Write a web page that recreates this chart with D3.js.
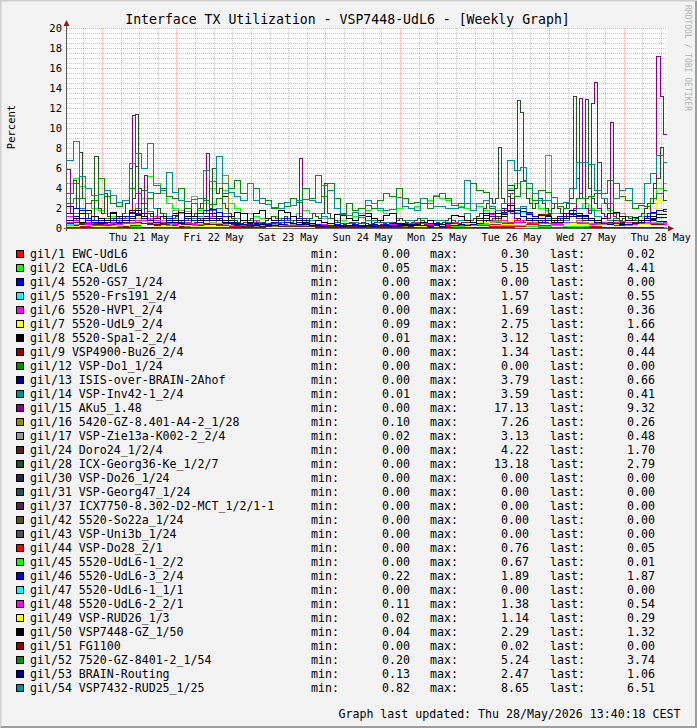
<!DOCTYPE html>
<html><head><meta charset="utf-8">
<script src="https://cdn.jsdelivr.net/npm/d3@7"></script>
<style>
html,body{margin:0;padding:0;background:#F3F3F3;}
svg{display:block;}
text{font-family:"DejaVu Sans Mono",monospace;}
</style></head><body>
<svg id="chart" width="697" height="728"></svg>
<script>
// ---------------- DATA ----------------
const chartTitle = "Interface TX Utilization - VSP7448-UdL6 - [Weekly Graph]";
const yAxisTitle = "Percent";
const footerText = "Graph last updated: Thu 28/May/2026 13:40:18 CEST";
const watermarkText = "RRDTOOL / TOBI OETIKER";
const yTickValues = [0,2,4,6,8,10,12,14,16,18,20];
const timeStart = Date.UTC(2026,4,20,12,45);
const timeEnd   = Date.UTC(2026,4,28,14,0);
const sampleSpanHours = 192;

const seriesNames = ["gil/1 EWC-UdL6","gil/2 ECA-UdL6","gil/4 5520-GS7_1/24","gil/5 5520-Frs191_2/4","gil/6 5520-HVPl_2/4","gil/7 5520-UdL9_2/4","gil/8 5520-Spa1-2_2/4","gil/9 VSP4900-Bu26_2/4","gil/12 VSP-Do1_1/24","gil/13 ISIS-over-BRAIN-2Ahof","gil/14 VSP-Inv42-1_2/4","gil/15 AKu5_1.48","gil/16 5420-GZ-8.401-A4-2_1/28","gil/17 VSP-Zie13a-K002-2_2/4","gil/24 Doro24_1/2/4","gil/28 ICX-Georg36-Ke_1/2/7","gil/30 VSP-Do26_1/24","gil/31 VSP-Georg47_1/24","gil/37 ICX7750-8.302-D2-MCT_1/2/1-1","gil/42 5520-So22a_1/24","gil/43 VSP-Uni3b_1/24","gil/44 VSP-Do28_2/1","gil/45 5520-UdL6-1_2/2","gil/46 5520-UdL6-3_2/4","gil/47 5520-UdL6-1_1/1","gil/48 5520-UdL6-2_2/1","gil/49 VSP-RUD26_1/3","gil/50 VSP7448-GZ_1/50","gil/51 FG1100","gil/52 7520-GZ-8401-2_1/54","gil/53 BRAIN-Routing","gil/54 VSP7432-RUD25_1/25"];

const legendMin  = ["0.00","0.05","0.00","0.00","0.00","0.09","0.01","0.00","0.00","0.00","0.01","0.00","0.10","0.02","0.00","0.00","0.00","0.00","0.00","0.00","0.00","0.00","0.00","0.22","0.00","0.11","0.02","0.04","0.00","0.20","0.13","0.82"];
const legendMax  = ["0.30","5.15","0.00","1.57","1.69","2.75","3.12","1.34","0.00","3.79","3.59","17.13","7.26","3.13","4.22","13.18","0.00","0.00","0.00","0.00","0.00","0.76","0.67","1.89","0.00","1.38","1.14","2.29","0.02","5.24","2.47","8.65"];
const legendLast = ["0.02","4.41","0.00","0.55","0.36","1.66","0.44","0.44","0.00","0.66","0.41","9.32","0.26","0.48","1.70","2.79","0.00","0.00","0.00","0.00","0.00","0.05","0.01","1.87","0.00","0.54","0.29","1.32","0.00","3.74","1.06","6.51"];

const seriesColors = ["#FF0000","#00FF00","#0000FF","#00FFFF","#FF00FF","#FFFF00","#000000","#990000","#009000","#000090","#009090","#900090","#909000","#999999","#552222","#225522","#222255","#225555","#552255","#555522","#555555","#FF0000","#00FF00","#0000FF","#00FFFF","#FF00FF","#FFFF00","#000000","#990000","#009000","#000090","#009090"];

// series values (evenly sampled over the first 192 h; one row = one day)
const v01 = [0.10,0.20,0.15,0.10,0.08,0.10, 0.30,0.15,0.10,0.08,0.05,0.10, 0.12,0.08,0.05,0.05,0.06,0.05, 0.05,0.04,0.05,0.06,0.05,0.04, 0.05,0.04,0.05,0.06,0.05,0.06, 0.05,0.06,0.08,0.10,0.12,0.15, 0.20,0.12,0.10,0.08,0.10,0.12, 0.10,0.08,0.06,0.05,0.04,0.03, 0.02];
const v02 = [4.5,5.0,4.2,2.5,2.0,1.8,1.5,1.2,1.0,1.5,2.0,2.5,
 3.0,5.15,4.5,3.5,2.5,2.0,1.5,1.2,1.5,1.8,2.5,4.0,
 4.5,3.8,2.5,2.0,1.5,1.5,1.2,1.0,1.0,1.2,1.0,1.0,
 1.2,1.5,1.8,1.5,1.5,1.2,1.0,0.8,0.8,1.0,1.2,1.5,
 1.8,2.0,1.8,1.5,1.5,2.0,2.2,2.0,2.2,2.5,2.8,3.3,
 3.0,2.8,2.5,2.2,2.0,2.5,2.2,1.8,1.5,1.2,1.5,4.0,
 4.5,3.5,3.0,2.5,2.0,1.8,1.5,1.5,1.2,1.5,2.0,2.5,
 2.0,1.8,2.5,1.8,1.5,1.5,1.2,1.0,1.2,1.5,2.5,4.0,
 4.41];
const v04 = [0,0];
const v05 = [0.4,0.6,0.5,0.4,0.3,0.5, 1.0,0.6,0.4,0.3,0.4,0.5, 0.6,0.4,0.3,0.3,0.2,0.3, 0.2,0.2,0.3,0.2,0.2,0.3, 0.2,0.3,0.2,0.3,0.3,0.4, 0.3,0.4,0.6,0.8,0.6,0.5, 1.57,0.6,0.5,0.4,0.6,0.8, 0.5,0.4,0.4,0.5,0.6,0.6, 0.55];
const v06 = [1.2,1.5,1.0,0.6,0.5,0.4,0.5,0.6,0.5,0.6,0.8,1.0,
 1.0,1.69,1.2,0.8,0.6,0.5,0.6,0.5,0.4,0.6,1.0,1.2,
 1.0,0.8,0.6,0.5,0.4,0.3,0.3,0.4,0.3,0.3,0.4,0.3,
 0.3,0.4,0.3,0.3,0.4,0.3,0.3,0.4,0.3,0.3,0.2,0.3,
 0.3,0.2,0.3,0.3,0.4,0.3,0.3,0.4,0.5,0.6,0.5,0.4,
 0.4,0.3,0.3,0.4,0.3,0.4,0.5,0.6,0.8,1.0,0.8,0.6,
 0.5,0.6,0.5,0.4,0.5,0.6,0.5,0.4,0.5,0.6,0.5,0.4,
 0.4,0.5,0.6,0.5,0.4,0.5,0.6,0.5,0.4,0.4,0.5,0.4,
 0.36];
const v07 = [0.5,0.6,0.4,0.3,0.3,0.4,0.5,0.3,0.4,0.8,2.0,1.2,
 0.8,0.5,0.4,0.3,0.3,0.4,0.5,0.4,0.3,0.4,0.6,0.8,
 0.6,0.5,0.4,0.3,0.3,0.2,0.3,0.2,0.2,0.3,0.2,0.3,
 0.2,0.3,0.2,0.2,0.3,0.5,0.4,0.3,0.2,0.2,0.3,0.2,
 0.2,0.3,0.2,0.2,0.3,0.2,0.3,0.3,0.2,0.2,0.3,0.2,
 0.2,0.3,0.2,0.3,0.2,0.3,0.5,0.8,1.0,0.8,0.6,0.8,
 0.6,0.8,1.0,0.6,0.5,0.6,0.8,0.6,0.5,0.4,0.6,0.8,
 0.6,0.5,0.4,0.3,0.4,0.5,0.4,0.6,0.8,1.0,1.5,2.75,
 1.66];
const v08 = [0.5,0.8,1.5,1.8,1.2,0.8,1.0,1.5,0.6,0.5,1.8,1.5,
 1.2,1.5,0.8,0.5,0.6,1.5,1.8,1.2,1.0,0.6,0.5,0.8,
 1.0,3.12,0.8,0.6,1.5,0.8,0.5,0.4,0.5,0.6,0.4,0.3,
 0.3,0.2,0.3,0.4,0.3,0.2,0.3,1.4,0.5,0.3,0.2,0.3,
 0.3,0.2,0.3,0.2,0.3,0.2,0.3,0.4,0.3,0.2,0.1,0.2,
 0.3,0.2,0.3,0.4,0.3,0.5,0.8,1.3,0.8,1.0,1.2,1.7,
 1.0,0.8,0.6,0.5,0.8,1.3,0.8,0.6,0.5,0.6,0.8,1.0,
 0.8,0.6,0.5,0.4,0.5,0.6,0.5,0.4,0.5,0.6,0.8,0.5,
 0.44];
const v09 = [0.3,0.5,0.4,0.3,0.2,0.3, 0.5,0.4,0.3,0.2,0.3,0.4, 0.5,0.3,0.2,0.2,0.2,0.2, 0.2,0.1,0.2,0.2,0.1,0.2, 0.2,0.2,0.1,0.2,0.2,0.3, 0.3,0.4,0.6,0.8,0.5,0.4, 0.6,0.8,1.34,0.6,0.5,0.4, 0.4,0.3,0.3,0.4,0.5,0.4, 0.44];
const v12 = [0,0];
const v13 = [2.2,2.0,1.5,1.0,0.8,0.6,0.8,1.0,0.8,1.2,1.6,2.0,
 1.5,1.0,0.8,0.6,1.0,0.8,0.6,1.5,1.2,1.0,1.2,1.5,
 1.2,0.8,0.6,0.5,0.4,0.4,0.3,0.4,0.3,0.3,0.6,1.0,
 0.8,0.6,0.5,0.4,0.3,0.3,0.3,0.4,0.3,0.3,0.4,0.3,
 1.5,0.4,0.3,0.3,0.3,0.4,0.5,0.4,0.3,0.3,0.4,0.3,
 0.3,0.4,0.3,0.4,0.3,0.4,0.5,0.8,1.5,1.8,2.0,3.79,
 1.8,2.0,1.6,1.2,1.0,0.8,1.0,1.0,1.2,1.8,1.5,1.2,
 1.0,0.8,0.6,0.5,0.6,0.5,0.4,0.5,0.6,0.8,0.9,0.7,
 0.66];
const v14 = [2.5,3.0,2.0,1.5,1.2,1.0,1.0,0.8,0.8,1.0,1.5,2.0,
 2.5,3.59,2.0,1.5,1.2,1.0,0.8,0.8,1.0,1.2,1.5,1.8,
 2.0,1.5,1.2,1.0,0.8,0.8,0.6,0.6,0.5,0.5,0.6,0.8,
 0.8,1.0,1.0,0.8,0.8,1.2,1.0,0.6,0.5,0.5,0.6,0.5,
 0.8,0.8,0.6,0.6,0.6,1.0,0.8,0.8,0.6,1.0,0.8,0.8,
 0.8,0.6,0.6,0.8,1.5,0.6,0.8,1.0,0.8,0.6,0.8,2.5,
 2.0,2.2,1.5,1.2,1.0,1.0,1.0,0.8,0.8,1.2,2.0,2.0,
 1.8,1.2,1.0,0.8,1.0,1.2,1.2,0.8,0.8,1.0,1.0,0.5,
 0.41];
const v15 = [5.9,1.5,1.0,0.8,0.6,0.5,0.5,0.4,0.4,0.5,0.5,0.4,0.5,0.4,0.5,0.6,0.5,0.8,1.0,1.2,1.5,11.3,6.2,1.5,
 1.2,5.3,1.0,0.8,0.6,0.5,0.6,0.5,0.4,0.5,0.4,0.3,0.3,0.4,0.3,0.4,0.5,0.6,0.8,1.0,1.5,7.5,2.0,1.2,
 1.0,0.8,0.6,0.5,0.5,0.4,0.4,0.3,0.3,0.3,0.4,0.3,0.3,0.4,0.3,0.3,0.4,0.5,0.5,0.6,0.5,0.4,0.4,0.3,
 0.3,0.5,1.0,7.0,0.8,0.5,0.4,0.3,0.3,0.3,0.4,0.3,0.3,0.2,0.3,0.3,0.2,0.3,0.2,0.2,0.3,0.2,0.3,0.3,
 0.3,0.2,0.3,0.2,0.3,0.4,0.3,0.2,0.3,0.4,0.3,0.3,0.4,0.5,0.4,0.3,0.4,0.3,0.3,0.4,0.3,0.3,0.4,0.3,
 0.3,0.4,0.3,0.4,0.5,0.4,0.3,0.4,0.3,0.4,0.5,0.6,0.5,0.6,0.8,0.6,0.8,1.0,0.8,1.2,1.5,2.0,3.2,1.5,
 1.0,0.8,0.6,0.8,0.6,0.5,0.6,0.5,0.6,0.8,0.6,0.5,0.6,0.8,1.0,0.8,1.0,1.5,1.2,2.0,3.0,13.0,3.0,2.0,
 1.5,12.5,14.6,2.0,1.5,1.2,1.0,10.6,1.5,1.0,0.8,0.6,0.5,0.5,0.6,0.5,0.6,0.8,1.0,1.5,2.5,4.5,17.13,13.2,
 9.32];
const v16 = [0.3,0.4,0.3,0.2,0.2,0.3,0.4,0.3,0.2,0.3,0.5,0.4,
 0.3,0.4,0.3,0.2,0.3,0.4,0.3,0.2,0.3,0.4,0.5,0.6,
 0.8,5.3,0.6,0.4,0.3,0.2,0.2,0.3,0.2,0.2,0.1,0.2,
 0.2,0.1,0.2,0.2,0.3,0.2,0.2,0.1,0.2,0.2,0.1,0.2,
 0.2,0.1,0.2,0.2,0.1,0.2,0.2,0.3,0.2,0.2,0.1,0.2,
 0.2,0.2,0.3,0.2,0.3,0.4,0.5,0.6,0.5,0.8,0.6,0.5,
 0.6,0.5,0.8,0.6,0.5,7.26,0.8,0.6,0.5,0.6,0.8,0.6,
 0.5,0.4,0.5,0.6,0.5,0.4,0.3,0.4,0.5,0.4,0.3,0.3,
 0.26];
const v17 = [0.3,0.4,0.3,0.4,0.3,0.5,0.4,0.3,0.4,0.6,0.8,1.0,
 0.8,0.6,0.5,0.8,1.0,1.8,1.8,1.7,3.13,2.0,0.8,0.6,
 0.5,0.4,0.3,0.4,0.3,0.3,0.4,0.3,0.3,0.4,0.3,0.3,
 0.4,0.3,0.3,0.4,0.3,1.0,0.5,0.4,0.3,0.3,0.4,0.3,
 0.3,0.4,0.3,0.3,0.4,0.3,0.3,0.4,0.3,0.3,0.4,0.3,
 0.3,0.4,0.3,0.3,0.4,0.3,0.4,0.5,0.6,0.5,0.4,0.5,
 0.6,0.5,0.4,0.5,0.6,0.5,0.4,0.5,0.6,0.5,0.4,0.5,
 0.4,0.5,0.4,0.3,0.4,0.5,0.4,0.5,0.4,0.5,0.6,0.5,
 0.48];
const v24 = [0.5,0.6,0.4,0.3,0.4,0.5,0.3,0.4,0.5,0.6,0.8,0.6,
 0.5,0.4,0.3,0.4,0.5,0.4,0.3,0.4,0.5,0.6,0.5,0.4,
 0.4,0.3,0.2,0.3,0.2,0.2,0.3,0.2,0.2,0.3,0.2,0.2,
 0.2,0.3,0.2,0.2,0.3,0.2,0.2,0.3,0.2,0.2,0.3,0.2,
 0.2,0.3,0.2,0.2,0.3,0.2,0.3,0.2,0.2,0.3,0.2,0.2,
 0.3,0.2,0.3,0.4,0.3,0.5,0.8,1.0,1.5,1.2,1.8,4.22,
 1.5,1.2,1.0,0.8,1.0,1.2,1.0,0.8,1.5,1.2,1.0,0.8,
 0.8,0.6,0.5,0.6,0.8,0.6,0.5,0.6,0.8,1.0,1.5,1.8,
 1.70];
const v28 = [2.5,3.5,4.8,2.0,7.6,3.0,1.5,1.0,0.8,7.2,2.0,1.5,3.5,1.2,1.0,0.8,1.0,1.2,1.5,2.5,6.0,3.0,11.4,4.0,
 2.5,2.0,1.5,1.2,1.0,2.0,1.5,1.0,0.8,0.8,1.0,1.2,0.8,0.6,0.8,1.0,1.2,1.5,2.0,2.5,3.0,1.5,2.0,6.0,
 3.5,4.0,2.5,2.0,1.5,1.0,0.8,0.6,0.5,0.6,0.8,1.0,0.8,0.6,0.5,0.6,0.8,1.0,1.2,1.0,0.8,1.0,1.2,0.8,
 0.6,0.8,1.0,1.2,1.0,0.8,1.0,1.5,1.2,1.0,1.5,4.5,1.5,1.0,0.8,0.6,0.5,0.4,0.5,0.6,0.5,0.4,0.5,0.6,
 0.5,0.4,0.5,0.6,0.8,0.6,0.5,0.4,0.5,0.6,0.8,1.0,0.8,0.6,0.5,0.6,0.8,1.0,0.8,0.6,0.5,0.4,0.5,0.6,
 0.5,0.6,0.8,1.0,0.8,0.6,0.5,0.6,0.5,0.6,0.8,1.0,1.2,1.5,2.0,2.5,3.0,2.5,3.0,8.1,3.0,2.5,3.5,3.0,
 4.0,12.8,11.6,4.8,3.0,2.5,2.0,2.5,3.0,2.5,2.0,1.5,2.0,2.5,2.0,1.5,2.0,2.5,3.0,13.18,5.0,3.5,3.0,12.9,
 4.0,3.0,2.5,6.6,3.0,2.5,2.0,1.5,1.2,1.0,0.8,1.0,1.2,1.0,0.8,1.0,1.2,1.5,2.0,2.5,3.0,4.0,5.0,8.1,
 2.79];
const v30 = [0,0];
const v31 = [0,0];
const v37 = [0,0];
const v42 = [0,0];
const v43 = [0,0];
const v44 = [0.1,0.2,0.3,0.2,0.1,0.1, 0.3,0.2,0.1,0.1,0.1,0.2, 0.3,0.2,0.1,0.1,0.1,0.1, 0.1,0.1,0.1,0.1,0.1,0.1, 0.1,0.1,0.1,0.1,0.1,0.1, 0.2,0.2,0.3,0.3,0.4,0.5, 0.76,0.4,0.3,0.3,0.2,0.2, 0.2,0.1,0.1,0.1,0.1,0.1, 0.05];
const v45 = [0.2,0.3,0.2,0.1,0.1,0.2, 0.3,0.2,0.1,0.1,0.1,0.2, 0.2,0.1,0.1,0.1,0.1,0.1, 0.1,0.1,0.1,0.1,0.0,0.1, 0.1,0.1,0.1,0.1,0.1,0.1, 0.1,0.2,0.3,0.4,0.67,0.3, 0.3,0.2,0.2,0.3,0.2,0.2, 0.1,0.1,0.1,0.1,0.0,0.0, 0.01];
const v46 = [1.5,2.0,1.8,1.0,0.8,0.8,0.6,0.8,1.0,1.2,1.5,1.4,
 1.2,1.0,0.8,1.2,1.0,1.3,0.8,0.6,0.8,1.5,1.8,1.89,
 1.6,1.2,0.6,0.5,0.4,0.5,0.4,0.5,0.4,0.6,0.8,1.0,
 1.2,1.0,0.8,0.5,0.4,0.4,0.3,0.4,0.3,0.3,0.4,0.3,
 0.3,0.4,0.3,0.4,0.5,0.4,0.3,0.4,0.5,0.6,0.5,0.4,
 0.3,0.4,0.5,0.4,0.3,0.4,0.6,0.8,1.2,1.5,1.6,1.8,
 1.5,1.7,1.4,1.2,1.0,0.8,0.8,1.2,1.5,1.4,1.3,1.2,
 0.8,0.6,0.5,0.5,0.6,0.5,0.4,0.5,0.8,1.2,1.6,1.8,
 1.87];
const v47 = [0,0];
const v48 = [0.6,0.8,0.6,0.4,0.3,0.3,0.4,0.5,0.4,0.5,0.6,0.8,
 0.8,1.0,0.8,0.6,0.5,0.4,0.5,0.6,0.5,0.6,0.8,1.0,
 0.8,0.6,0.5,0.4,0.3,0.3,0.8,0.4,0.3,0.3,0.4,0.3,
 0.3,0.3,0.4,0.3,0.3,0.4,0.3,0.3,0.2,0.3,0.3,0.2,
 0.3,0.2,0.3,0.3,0.4,0.3,0.4,0.5,0.6,0.5,0.4,0.3,
 0.3,0.4,0.6,0.3,0.3,0.4,0.5,0.8,1.38,1.0,0.8,0.6,
 0.6,0.8,0.6,0.5,0.6,0.5,0.4,0.5,0.6,0.5,0.6,0.5,
 0.4,0.5,0.6,0.5,0.6,0.7,0.5,0.4,0.5,0.6,0.5,0.5,
 0.54];
const v49 = [0.2,0.3,0.2,0.2,0.3,0.4, 0.3,0.2,0.2,0.3,0.2,0.2, 0.2,0.1,0.1,0.1,0.1,0.1, 0.1,0.1,0.1,0.1,0.1,0.1, 0.1,0.1,0.1,0.1,0.2,0.2, 0.3,0.4,0.5,0.6,0.5,0.4, 0.5,0.8,1.14,0.6,0.5,0.4, 0.3,0.3,0.4,0.5,0.4,0.3, 0.29];
const v50 = [0.8,1.0,0.6,0.8,1.2,1.0,0.8,1.6,1.2,0.8,1.0,1.8,
 1.2,0.8,1.0,1.2,0.6,0.8,1.6,2.0,1.2,0.8,1.0,1.5,
 1.0,0.8,1.2,1.6,0.8,0.6,1.5,1.8,1.0,0.8,1.8,1.6,
 1.2,0.8,0.6,0.5,0.8,0.6,0.5,1.4,1.3,1.0,0.8,1.3,
 1.2,1.0,0.8,1.3,1.5,0.5,0.4,0.3,0.4,0.6,0.8,0.5,
 0.4,0.5,1.3,1.2,0.8,0.6,1.0,1.5,1.2,1.0,1.4,2.29,
 1.5,1.2,0.8,1.0,1.3,1.2,0.8,0.6,1.0,1.2,1.5,1.3,
 1.0,0.8,1.0,1.5,1.6,1.2,0.8,1.1,0.8,1.0,1.2,1.4,
 1.32];
const v51 = [0.01,0.02,0.01,0.01,0.00,0.01,0.01,0.02,0.01,0.00,0.01,0.01,0.00];
const v52 = [3.5,4.5,3.0,2.5,2.8,5.0,3.2,2.5,2.2,2.8,4.0,3.5,
 3.8,3.0,3.5,4.0,3.2,3.0,4.0,2.0,2.5,2.0,2.8,2.4,
 3.0,3.5,4.0,4.8,3.5,4.5,4.0,2.5,2.8,2.0,2.5,2.2,
 3.0,2.6,4.0,3.0,5.24,3.2,4.5,3.0,1.5,2.5,1.8,2.0,
 2.3,2.0,2.8,3.5,3.2,4.0,3.0,2.5,2.6,2.5,2.0,3.2,
 3.5,3.0,2.3,2.5,2.5,4.5,3.8,3.6,2.0,1.8,1.5,3.5,
 3.2,4.7,4.0,2.8,3.8,3.6,2.5,2.2,2.0,2.5,3.0,3.0,
 3.2,3.5,3.5,4.8,4.5,3.2,2.8,2.0,2.3,2.2,3.0,3.5,
 3.74];
const v53 = [0.8,1.2,1.0,0.8,0.6,0.5,0.6,0.8,0.6,0.8,1.2,1.3,
 1.0,0.8,0.6,0.5,0.8,0.6,0.5,1.0,0.8,0.6,0.8,1.0,
 0.8,0.6,0.5,0.4,0.4,0.3,0.3,0.4,0.3,0.3,0.4,0.6,
 0.5,0.4,0.4,0.3,0.3,0.2,0.3,0.3,0.2,0.3,0.3,0.2,
 0.3,0.2,0.3,0.3,0.2,0.3,0.3,0.4,0.3,0.3,0.2,0.3,
 0.2,0.3,0.3,0.4,0.3,0.4,0.5,0.8,1.2,1.5,2.47,1.8,
 1.5,1.2,1.0,0.8,0.6,0.8,0.6,1.0,1.2,1.5,1.2,1.0,
 0.8,0.6,0.5,0.4,0.5,0.4,0.4,0.5,0.6,0.8,1.0,1.1,
 1.06];
const v54 = [6.8,8.65,5.2,4.0,3.3,3.4,3.8,3.3,2.6,2.8,6.5,7.5,
 6.0,8.5,4.3,3.8,5.6,3.6,2.8,2.7,2.9,3.0,5.8,4.7,
 7.2,4.5,3.6,3.2,2.8,4.5,2.8,3.0,2.4,2.1,2.0,2.6,
 2.3,2.8,2.9,2.8,2.6,4.3,3.8,2.0,1.4,1.3,1.6,1.1,
 2.8,2.5,2.0,1.8,1.9,3.1,2.2,2.0,1.8,3.0,2.5,2.2,
 2.2,2.0,2.0,2.1,4.8,1.8,2.5,2.8,2.2,1.8,2.5,6.8,
 5.8,6.1,4.5,3.5,2.8,2.8,3.1,2.5,2.6,4.0,6.6,6.6,
 6.4,3.8,3.0,2.5,3.0,3.8,4.0,2.5,2.5,4.5,5.5,7.3,
 6.51];

const seriesValues = [v01,v02,v04,v05,v06,v07,v08,v09,v12,v13,v14,v15,v16,v17,v24,v28,v30,v31,v37,v42,v43,v44,v45,v46,v47,v48,v49,v50,v51,v52,v53,v54];

// ---------------- DRAWING ----------------
const W = 697, H = 728;
const P = {left:67, right:667, top:28, bottom:228};
const svg = d3.select("#chart");

svg.append("rect").attr("width",W).attr("height",H).attr("fill","#F3F3F3");
// frame (shade)
svg.append("path").attr("d",`M0.5,${H} V0.5 H${W}`).attr("stroke","#CFCFCF").attr("stroke-width",2).attr("fill","none");
svg.append("path").attr("d",`M1,${H-1} H${W-1} V1`).attr("stroke","#9E9E9E").attr("stroke-width",2).attr("fill","none");

const x = d3.scaleUtc().domain([new Date(timeStart), new Date(timeEnd)]).range([P.left, P.right]);
const y = d3.scaleLinear().domain([0, 20]).range([P.bottom, P.top]);

svg.append("rect").attr("x",P.left).attr("y",P.top).attr("width",P.right-P.left).attr("height",P.bottom-P.top).attr("fill","#FFFFFF");

const grid = svg.append("g").attr("shape-rendering","crispEdges");
const minorColor = "rgba(130,130,130,0.45)";
const majorColor = "rgba(255,60,60,0.45)";
// horizontal minor / major
d3.range(1, 41).forEach(k => {
  const v = k * 0.5;
  const py = Math.round(y(v)) + 0.5;
  const major = (k % 4 === 0);
  grid.append("line").attr("x1",P.left).attr("x2",P.right).attr("y1",py).attr("y2",py)
    .attr("stroke", major ? majorColor : minorColor).attr("stroke-dasharray","1,1");
});
// vertical minor every 6h, major at midnight
d3.utcHour.every(6).range(new Date(timeStart), new Date(timeEnd)).forEach(t => {
  const px = Math.round(x(t)) + 0.5;
  const major = t.getUTCHours() === 0;
  grid.append("line").attr("x1",px).attr("x2",px).attr("y1",P.top).attr("y2",P.bottom)
    .attr("stroke", major ? majorColor : minorColor).attr("stroke-dasharray","1,1");
});

// series (step lines, drawn in legend order)
const lineGen = d3.line().x(d => x(d[0])).y(d => y(d[1])).curve(d3.curveStepAfter);
const lines = svg.append("g").attr("shape-rendering","crispEdges");
seriesValues.forEach((vals, k) => {
  const stepMs = sampleSpanHours * 3600e3 / (vals.length - 1);
  const pts = vals.map((v, i) => [new Date(timeStart + i * stepMs), v]);
  pts.push([new Date(timeEnd), vals[vals.length - 1]]);
  lines.append("path").attr("d", lineGen(pts)).attr("fill","none")
    .attr("stroke", seriesColors[k]).attr("stroke-width", 1);
});

// axes
const ax = svg.append("g").attr("shape-rendering","crispEdges");
ax.append("line").attr("x1",P.left-0.5).attr("x2",P.left-0.5).attr("y1",P.bottom+3).attr("y2",P.top-4).attr("stroke","#5a5a5a");
ax.append("line").attr("x1",P.left-3).attr("x2",P.right+4).attr("y1",P.bottom+0.5).attr("y2",P.bottom+0.5).attr("stroke","#5a5a5a");
svg.append("path").attr("d",`M${P.left-3.5},${P.top-2} L${P.left+2.5},${P.top-2} L${P.left-0.5},${P.top-8} Z`).attr("fill","#8B1A1A");
svg.append("path").attr("d",`M${P.right+1},${P.bottom-2.5} L${P.right+1},${P.bottom+3.5} L${P.right+7},${P.bottom+0.5} Z`).attr("fill","#8B1A1A");

// y tick labels
svg.append("g").selectAll("text").data(yTickValues).join("text")
  .attr("x", P.left - 5).attr("y", d => y(d) + 3.6)
  .attr("text-anchor","end").attr("font-size","10.5px").attr("fill","#000").text(d => d);

// x labels at noon of each day
const fmt = d3.utcFormat("%a %d %b");
svg.append("g").selectAll("text")
  .data(d3.utcDay.range(new Date(timeStart), new Date(timeEnd)).map(d => new Date(+d + 12*3600e3)).filter(d => +d < timeEnd))
  .join("text").attr("x", d => x(d)).attr("y", P.bottom + 13)
  .attr("text-anchor","middle").attr("font-size","10px").attr("fill","#000").text(d => fmt(d));

// title, y title, watermark
svg.append("text").attr("x", 347.5).attr("y", 24).attr("text-anchor","middle")
  .attr("font-size","13.2px").attr("fill","#000").text(chartTitle);
svg.append("text").attr("transform","translate(14.5,127) rotate(-90)").attr("text-anchor","middle")
  .attr("font-size","10.5px").attr("fill","#000").text(yAxisTitle);
svg.append("text").attr("transform","translate(685,5) rotate(90)").attr("text-anchor","start")
  .attr("font-size","8px").attr("fill","#B4B4B4").text(watermarkText);

// legend
const leg = svg.append("g");
seriesNames.forEach((name, k) => {
  const cy = 254 + 14 * k;
  leg.append("rect").attr("x",16.5).attr("y",cy-3.5).attr("width",7).attr("height",7)
    .attr("fill", seriesColors[k]).attr("stroke","#000").attr("stroke-width",1).attr("shape-rendering","crispEdges");
  const fs = "11.6px", by = cy + 4.3;
  leg.append("text").attr("x",30).attr("y",by).attr("font-size",fs).text(name);
  leg.append("text").attr("x",311).attr("y",by).attr("font-size",fs).text("min:");
  leg.append("text").attr("x",410).attr("y",by).attr("font-size",fs).attr("text-anchor","end").text(legendMin[k]);
  leg.append("text").attr("x",430).attr("y",by).attr("font-size",fs).text("max:");
  leg.append("text").attr("x",529).attr("y",by).attr("font-size",fs).attr("text-anchor","end").text(legendMax[k]);
  leg.append("text").attr("x",550).attr("y",by).attr("font-size",fs).text("last:");
  leg.append("text").attr("x",655).attr("y",by).attr("font-size",fs).attr("text-anchor","end").text(legendLast[k]);
});

svg.append("text").attr("x", 680.5).attr("y", 718.3).attr("text-anchor","end")
  .attr("font-size","11.6px").attr("fill","#000").text(footerText);
</script>
</body></html>
